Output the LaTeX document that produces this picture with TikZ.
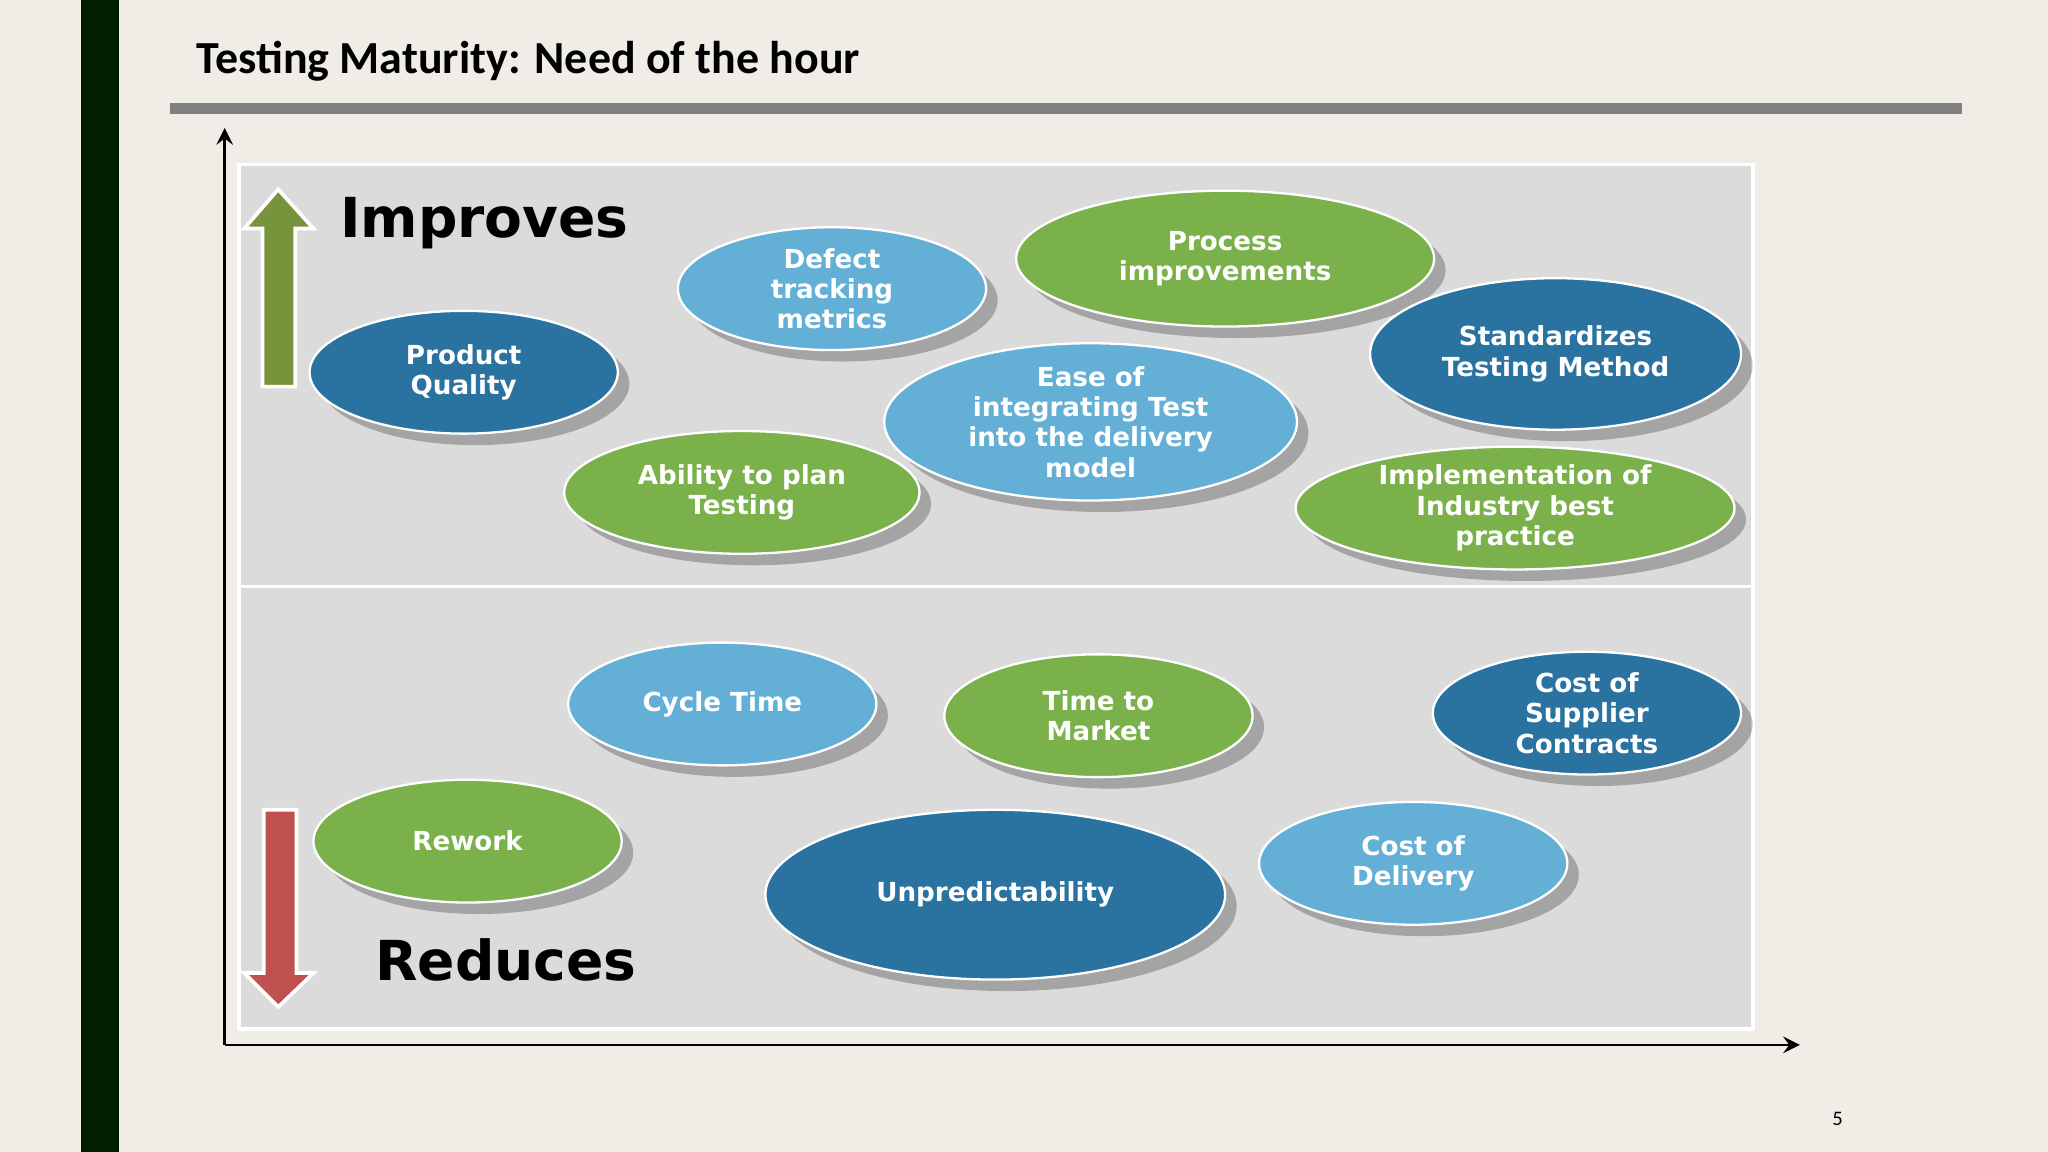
\documentclass[tikz,border=0pt]{standalone}
\usepackage{fontspec}
\setmainfont{DejaVu Sans}
\newfontfamily\titlefont{Carlito}
\usetikzlibrary{shapes.geometric,shadows}
\definecolor{bg}{HTML}{F0EDE7}
\definecolor{darkb}{HTML}{2A73A0}
\definecolor{lightb}{HTML}{64AFD6}
\definecolor{grn}{HTML}{7BB14B}
\definecolor{panel}{HTML}{DCDBDC}
\tikzset{
 ell/.style={ellipse, draw=white, line width=0.5pt, text=white, align=center,
   font=\fontsize{5.7}{6.6}\selectfont\bfseries, inner sep=0pt,
   drop shadow={shadow xshift=2.5pt, shadow yshift=-2.5pt, fill=black, opacity=0.25}},
 db/.style={ell, fill=darkb}, lb/.style={ell, fill=lightb}, gr/.style={ell, fill=grn},
 axis/.style={line width=0.6pt, -stealth}
}
\newcommand{\E}[6]{\node[#1, minimum width=#4*0.02cm, minimum height=#5*0.02cm] (#6) at (#2,#3) {#6text};}
\begin{document}
\begin{tikzpicture}[x=0.01cm,y=-0.01cm]
\fill[bg] (0,0) rectangle (1568,882);
\useasboundingbox (0,0) rectangle (1568,882);
\fill[black!88!green] (62,0) rectangle (91,882);
\node[anchor=west, font=\titlefont\fontsize{10}{12}\selectfont\bfseries] (title) at (138,47) {Testing Maturity: Need of the hour};
\fill[gray] (130,79) rectangle (1502,87);
\fill[panel, draw=white, line width=0.8pt] (183,126) rectangle (1342,788);
\draw[white, line width=0.8pt] (183,449) -- (1342,449);
\coordinate (o) at (172,800);
\coordinate (ytop) at (172,98);
\coordinate (xend) at (1378,800);
\draw[axis] (o) -- (ytop);
\draw[axis] (o) -- (xend);
% arrows
\draw[fill={rgb,255:red,119;green,147;blue,60}, draw=white, line width=0.8pt]
 (201,296) -- (201,175) -- (187,175) -- (213,145) -- (240,175) -- (226,175) -- (226,296) -- cycle;
\draw[fill={rgb,255:red,192;green,80;blue,77}, draw=white, line width=0.8pt]
 (202,620) -- (202,745) -- (187,745) -- (213,771) -- (240,745) -- (227,745) -- (227,620) -- cycle;
\node[anchor=west, font=\fontsize{12}{14}\selectfont\bfseries] (imp) at (248,171) {Improves};
\node[anchor=west, font=\fontsize{12}{14}\selectfont\bfseries] (red) at (275,735) {Reduces};
% ellipses
\node[db, minimum width=236*0.01cm, minimum height=94*0.01cm] (pq) at (355,285) {Product\\Quality};
\node[lb, minimum width=236*0.01cm, minimum height=94*0.01cm] (dt) at (637,221) {Defect\\tracking\\metrics};
\node[gr, minimum width=320*0.01cm, minimum height=104*0.01cm] (pi) at (938,198) {Process\\improvements};
\node[db, minimum width=284*0.01cm, minimum height=116*0.01cm] (st) at (1191,271) {Standardizes\\Testing Method};
\node[lb, minimum width=316*0.01cm, minimum height=120*0.01cm] (ei) at (835,323) {Ease of\\integrating Test\\into the delivery\\model};
\node[gr, minimum width=272*0.01cm, minimum height=94*0.01cm] (ap) at (568,377) {Ability to plan\\Testing};
\node[gr, minimum width=336*0.01cm, minimum height=94*0.01cm] (ib) at (1160,389) {Implementation of\\Industry best\\practice};
\node[lb, minimum width=236*0.01cm, minimum height=94*0.01cm] (ct) at (553,539) {Cycle Time};
\node[gr, minimum width=236*0.01cm, minimum height=94*0.01cm] (tm) at (841,548) {Time to\\Market};
\node[db, minimum width=236*0.01cm, minimum height=94*0.01cm] (cs) at (1215,546) {Cost of\\Supplier\\Contracts};
\node[gr, minimum width=236*0.01cm, minimum height=94*0.01cm] (rw) at (358,644) {Rework};
\node[db, minimum width=352*0.01cm, minimum height=130*0.01cm] (un) at (762,685) {Unpredictability};
\node[lb, minimum width=236*0.01cm, minimum height=94*0.01cm] (cd) at (1082,661) {Cost of\\Delivery};
\node[font=\titlefont\fontsize{4.5}{5}\selectfont] (pg) at (1407,857) {5};
\end{tikzpicture}
\end{document}
